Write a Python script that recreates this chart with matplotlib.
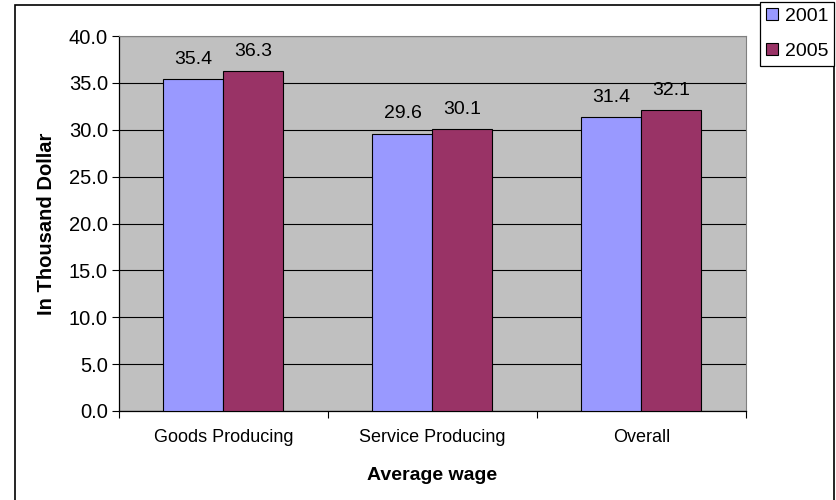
import numpy as np
import matplotlib.pyplot as plt
from matplotlib.patches import Rectangle

plt.rcParams['font.family'] = ['Liberation Sans', 'DejaVu Sans']

categories = ['Goods Producing', 'Service Producing', 'Overall']
wage_2001 = [35.4, 29.6, 31.4]
wage_2005 = [36.3, 30.1, 32.1]
y_ticks = [0, 5, 10, 15, 20, 25, 30, 35, 40]

fig = plt.figure(figsize=(8.36, 5), dpi=100)
ax = fig.add_axes([0.1423, 0.178, 0.75, 0.75])

# outer chart border (bottom edge runs off the page)
fig.patches.append(Rectangle((15 / 836, -0.02), 819 / 836, 1.01,
                             transform=fig.transFigure, fill=False,
                             edgecolor='black', linewidth=1.2))

x = np.arange(len(categories))
w = 0.287
b1 = ax.bar(x - w / 2, wage_2001, w, color='#9999FF', edgecolor='black',
            linewidth=0.8, label='2001', zorder=3)
b2 = ax.bar(x + w / 2, wage_2005, w, color='#993366', edgecolor='black',
            linewidth=0.8, label='2005', zorder=3)
for bars in (b1, b2):
    ax.bar_label(bars, labels=['%.1f' % v for v in bars.datavalues],
                 padding=8, fontsize=14)

ax.set_facecolor('#C0C0C0')
ax.set_xlim(-0.5, 2.5)
ax.set_ylim(0, 40)
ax.set_yticks(y_ticks)
ax.set_yticklabels(['%.1f' % v for v in y_ticks], fontsize=14.5)
ax.yaxis.grid(True, color='black', linewidth=0.8, zorder=0)
ax.set_axisbelow(True)

# category labels centred, tick marks on the group boundaries
ax.set_xticks(x)
ax.set_xticklabels(categories, fontsize=13)
ax.tick_params(axis='x', length=0, pad=13)
ax.set_xticks([-0.5, 0.5, 1.5, 2.5], minor=True)
ax.tick_params(axis='x', which='minor', length=5, width=0.8)
ax.tick_params(axis='y', length=5, width=0.8, pad=3)

for s in ('top', 'right'):
    ax.spines[s].set_color('#808080')
ax.spines['left'].set_linewidth(0.9)
ax.spines['bottom'].set_linewidth(0.9)

ax.set_ylabel('In Thousand Dollar', fontsize=14.5, fontweight='bold', labelpad=9)
ax.set_xlabel('Average wage', fontsize=14, fontweight='bold', labelpad=15)

leg = fig.legend(handles=[b1, b2], loc='lower right',
                 bbox_to_anchor=(834 / 836, 1 - 66 / 500), fontsize=14,
                 handlelength=0.6, handleheight=0.6, handletextpad=0.35,
                 borderpad=0.3, labelspacing=0.95, fancybox=False,
                 framealpha=1, borderaxespad=0)
leg.get_frame().set_edgecolor('black')
leg.get_frame().set_linewidth(0.9)

fig.savefig('out.png', dpi=100)
